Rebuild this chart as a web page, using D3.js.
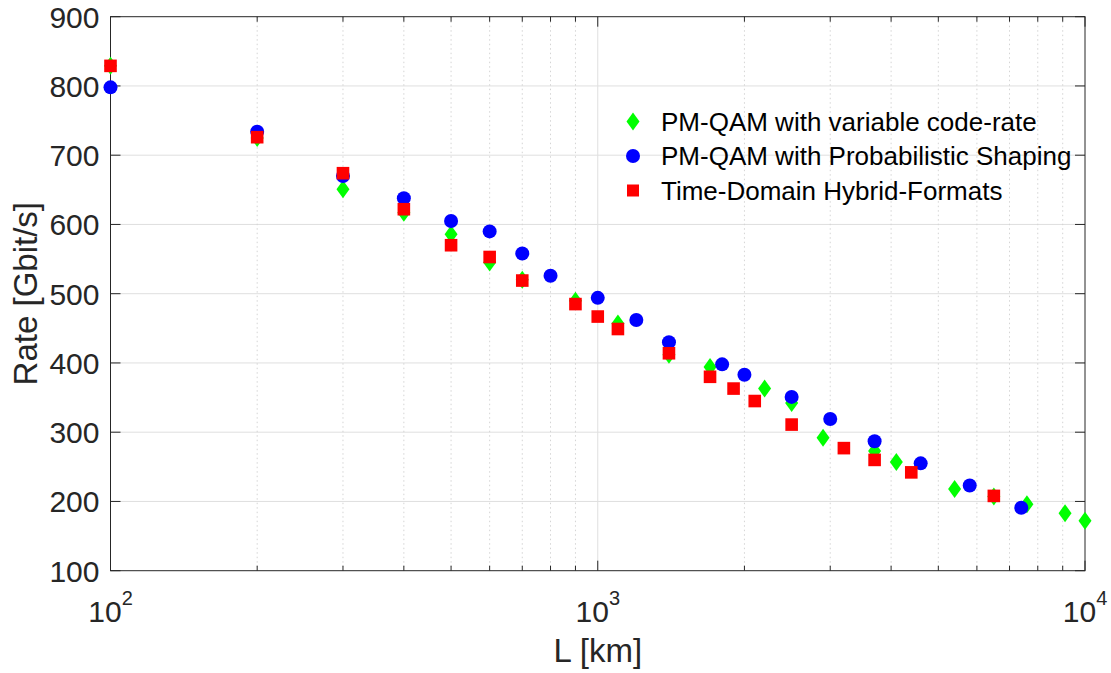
<!DOCTYPE html>
<html>
<head>
<meta charset="utf-8">
<script src="https://cdn.jsdelivr.net/npm/d3@7"></script>
<style>
  html, body { margin: 0; padding: 0; background: #fff; }
  svg { display: block; font-family: "Liberation Sans", Arial, Helvetica, sans-serif; }
</style>
</head>
<body>
<div id="chart"></div>
<script>
// ---- Data ----
const seriesNames = [
  "PM-QAM with variable code-rate",
  "PM-QAM with Probabilistic Shaping",
  "Time-Domain Hybrid-Formats"
];
const greenL = [100,200,300,400,500,600,700,900,1100,1400,1700,2200,2500,2900,3700,4100,5400,6500,7600,9100,10000];
const greenR = [829,725,651,617,586,545,520,490,457,412,394,363,342,292,273,257,218,207,196,183,172];
const blueL = [100,200,300,400,500,600,700,800,1000,1200,1400,1800,2000,2500,3000,3700,4600,5800,7400];
const blueR = [798,734,670,638,605,590,558,526,494,462,430,398,383,351,319,287,255,223,191];
const redL = [100,200,300,400,500,600,700,900,1000,1100,1400,1700,1900,2100,2500,3200,3700,4400,6500];
const redR = [829,726,674,622,570,553,519,485,467,449,414,380,363,345,311,277,260,242,208];
const yTicks = [100,200,300,400,500,600,700,800,900];
const xMajor = [100,1000,10000];
const xMajorExp = ["2","3","4"];

(function () {
// ---- Layout ----
const W = 1111, H = 673;
const pL = 110.5, pR = 1085, pT = 16.7, pB = 570.7;
const textColor = "#262626";

const svg = d3.select("#chart").append("svg").attr("width", W).attr("height", H);

const x = d3.scaleLog().domain([100, 10000]).range([pL, pR]);
const y = d3.scaleLinear().domain([100, 900]).range([pB, pT]);

const minorX = [];
for (let d = 100; d < 10000; d *= 10) for (let k = 2; k <= 9; k++) minorX.push(d * k);

// grid
const g = svg.append("g");
g.selectAll(".ygrid").data(yTicks.slice(1, -1)).enter().append("line")
  .attr("x1", pL).attr("x2", pR)
  .attr("y1", d => y(d)).attr("y2", d => y(d))
  .attr("stroke", "#dfdfdf").attr("stroke-width", 1);
g.selectAll(".xgrid").data([1000]).enter().append("line")
  .attr("x1", d => x(d)).attr("x2", d => x(d))
  .attr("y1", pT).attr("y2", pB)
  .attr("stroke", "#dfdfdf").attr("stroke-width", 1);
g.selectAll(".xminorgrid").data(minorX).enter().append("line")
  .attr("x1", d => x(d)).attr("x2", d => x(d))
  .attr("y1", pT).attr("y2", pB)
  .attr("stroke", "#d4d4d4").attr("stroke-width", 1)
  .attr("stroke-dasharray", "1.5,3");

// ticks (inward, all sides)
const ax = svg.append("g").attr("stroke", textColor).attr("stroke-width", 1);
yTicks.forEach(t => {
  ax.append("line").attr("x1", pL).attr("x2", pL + 10).attr("y1", y(t)).attr("y2", y(t));
  ax.append("line").attr("x1", pR).attr("x2", pR - 10).attr("y1", y(t)).attr("y2", y(t));
});
xMajor.forEach(t => {
  ax.append("line").attr("x1", x(t)).attr("x2", x(t)).attr("y1", pB).attr("y2", pB - 10);
  ax.append("line").attr("x1", x(t)).attr("x2", x(t)).attr("y1", pT).attr("y2", pT + 10);
});
minorX.forEach(t => {
  ax.append("line").attr("x1", x(t)).attr("x2", x(t)).attr("y1", pB).attr("y2", pB - 5);
  ax.append("line").attr("x1", x(t)).attr("x2", x(t)).attr("y1", pT).attr("y2", pT + 5);
});
ax.append("rect").attr("x", pL).attr("y", pT).attr("width", pR - pL).attr("height", pB - pT)
  .attr("fill", "none");

// tick labels
svg.selectAll(".ylab").data(yTicks).enter().append("text")
  .attr("x", pL - 11).attr("y", d => y(d)).attr("dy", "0.36em")
  .attr("text-anchor", "end").attr("font-size", 30).attr("fill", textColor)
  .text(d => d);

xMajor.forEach((t, i) => {
  const tx = svg.append("text").attr("x", x(t)).attr("y", 622)
    .attr("text-anchor", "middle").attr("font-size", 30).attr("fill", textColor);
  tx.append("tspan").text("10");
  tx.append("tspan").attr("dy", -17).attr("font-size", 20).text(xMajorExp[i]);
});

// axis titles
svg.append("text").attr("x", (pL + pR) / 2).attr("y", 662)
  .attr("text-anchor", "middle").attr("font-size", 33).attr("fill", textColor).text("L [km]");
svg.append("text").attr("transform", `translate(37,${(pT + pB) / 2}) rotate(-90)`)
  .attr("text-anchor", "middle").attr("font-size", 33).attr("fill", textColor).text("Rate [Gbit/s]");

// markers
const diamond = (cx, cy) => `M${cx},${cy - 9}L${cx + 6.5},${cy}L${cx},${cy + 9}L${cx - 6.5},${cy}Z`;
const greenData = greenL.map((l, i) => [l, greenR[i]]);
const blueData = blueL.map((l, i) => [l, blueR[i]]);
const redData = redL.map((l, i) => [l, redR[i]]);

svg.append("g").selectAll("path").data(greenData).enter().append("path")
  .attr("d", d => diamond(x(d[0]), y(d[1]))).attr("fill", "#00ff00");
svg.append("g").selectAll("circle").data(blueData).enter().append("circle")
  .attr("cx", d => x(d[0])).attr("cy", d => y(d[1])).attr("r", 7).attr("fill", "#0000ff");
svg.append("g").selectAll("rect").data(redData).enter().append("rect")
  .attr("x", d => x(d[0]) - 6.3).attr("y", d => y(d[1]) - 6.3)
  .attr("width", 12.6).attr("height", 12.6).attr("fill", "#ff0000");

// legend
const legY = [121.5, 156, 190.5];
const lx = 633;
const leg = svg.append("g");
leg.append("path").attr("d", diamond(lx, legY[0])).attr("fill", "#00ff00");
leg.append("circle").attr("cx", lx).attr("cy", legY[1]).attr("r", 7).attr("fill", "#0000ff");
leg.append("rect").attr("x", lx - 6).attr("y", legY[2] - 6).attr("width", 12).attr("height", 12).attr("fill", "#ff0000");
seriesNames.forEach((s, i) => {
  leg.append("text").attr("x", 661).attr("y", legY[i]).attr("dy", "0.36em")
    .attr("font-size", 26).attr("fill", "#000").text(s);
});
})();
</script>
</body>
</html>
